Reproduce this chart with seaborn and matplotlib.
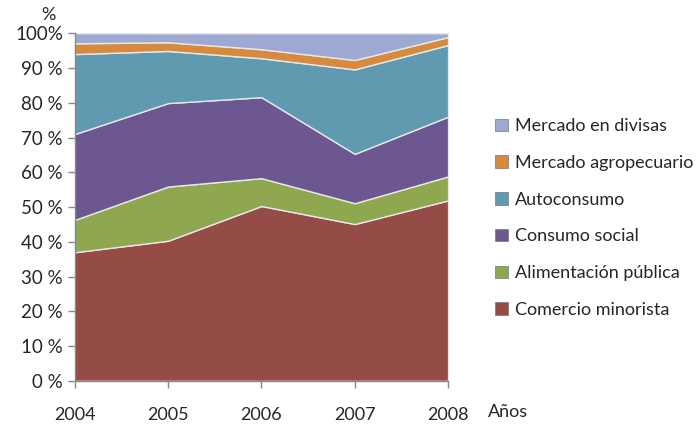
import numpy as np
import seaborn as sns
from matplotlib import pyplot as plt
from matplotlib.patches import Patch

years = [2004, 2005, 2006, 2007, 2008]
series = ['Comercio minorista', 'Alimentación pública', 'Consumo social',
          'Autoconsumo', 'Mercado agropecuario', 'Mercado en divisas']
comercio = [37.0, 40.3, 50.3, 45.1, 51.9]
alimentacion = [9.3, 15.6, 8.0, 6.0, 6.9]
consumo_social = [24.7, 24.0, 23.3, 14.2, 17.2]
autoconsumo = [23.0, 15.0, 11.2, 24.3, 20.6]
agropecuario = [3.1, 2.5, 2.6, 2.7, 2.3]
divisas = [2.9, 2.6, 4.6, 7.7, 1.1]
colors = ['#954B46', '#8FA850', '#6D5790', '#5F9AB0', '#D68A3E', '#9DA9D2']

sns.set_theme(style="white")
plt.rcParams['font.family'] = ['Lato', 'DejaVu Sans']

fig = plt.figure(figsize=(6.99, 4.26), dpi=100)
ax = fig.add_axes([0.107, 0.106, 0.534, 0.816])

ax.stackplot(years, comercio, alimentacion, consumo_social, autoconsumo,
             agropecuario, divisas, colors=colors, edgecolor='#e8e8e8', linewidth=1)

ax.set_xlim(2004, 2008)
ax.set_ylim(0, 100)
ax.set_xticks(years)
ax.set_xticklabels([str(y) for y in years], fontsize=13)
ax.set_yticks(np.arange(0, 101, 10))
ax.set_yticklabels(['100%' if v == 100 else f'{v} %' for v in range(0, 101, 10)],
                   fontsize=13.5)
ax.tick_params(axis='both', direction='out', length=5, color='#888888', width=1,
               left=True, bottom=True)
ax.tick_params(axis='x', pad=14)
for s in ['top', 'right']:
    ax.spines[s].set_visible(False)
for s in ['left', 'bottom']:
    ax.spines[s].set_color('#888888')
    ax.spines[s].set_linewidth(1)

fig.text(0.069, 0.965, '%', fontsize=13, ha='center', va='center')
fig.text(0.727, 0.032, 'Años', fontsize=13, ha='center', va='center')

handles = [Patch(facecolor=c, edgecolor='#777777', linewidth=0.5, label=l)
           for c, l in zip(colors[::-1], series[::-1])]
fig.legend(handles=handles, loc='center left', bbox_to_anchor=(0.685, 0.488),
           frameon=False, fontsize=13, handlelength=0.7, handleheight=0.7,
           handletextpad=0.4, labelspacing=1.15)

plt.savefig('out.png', dpi=100)
